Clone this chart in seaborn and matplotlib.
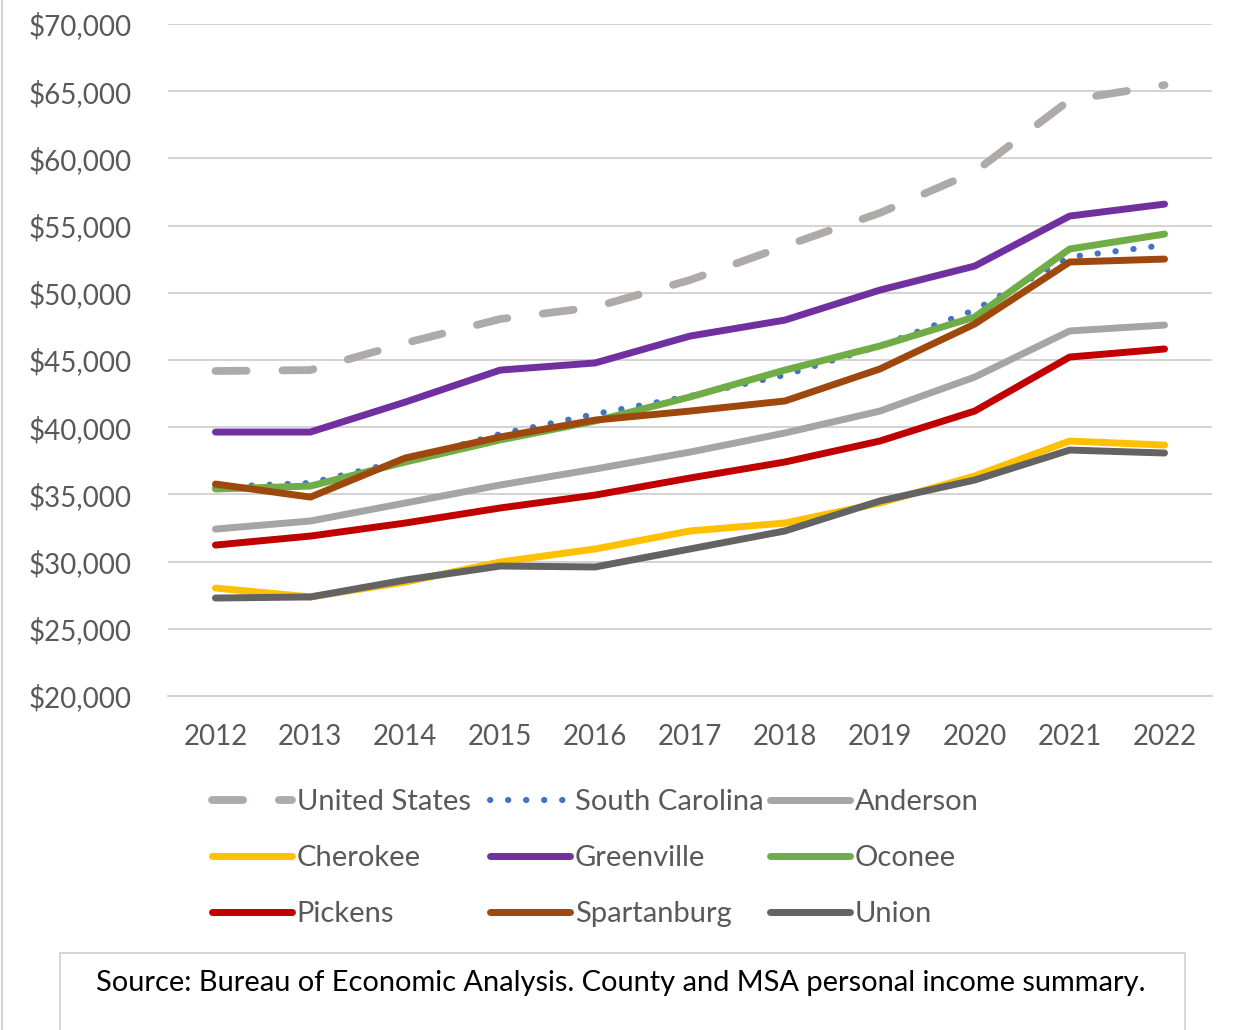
import matplotlib
matplotlib.use("Agg")
import matplotlib.pyplot as plt
import seaborn as sns
import pandas as pd
from matplotlib.lines import Line2D
from matplotlib.patches import Rectangle

years = list(range(2012, 2023))
united_states = [44180, 44250, 46260, 48050, 48940, 50950, 53480, 55940, 59000, 64340, 65460]
south_carolina = [35550, 35850, 37560, 39490, 40980, 42320, 43880, 46040, 48720, 52660, 53550]
anderson = [32420, 33020, 34360, 35700, 36890, 38150, 39570, 41200, 43730, 47160, 47600]
cherokee = [28030, 27370, 28480, 29970, 30940, 32280, 32870, 34360, 36370, 38970, 38670]
greenville = [39640, 39640, 41870, 44250, 44780, 46780, 47970, 50200, 51990, 55710, 56600]
oconee = [35400, 35620, 37410, 39050, 40460, 42250, 44250, 46040, 48200, 53260, 54370]
pickens = [31230, 31900, 32870, 33990, 34950, 36220, 37410, 38970, 41200, 45220, 45820]
spartanburg = [35770, 34800, 37710, 39270, 40530, 41200, 41950, 44330, 47680, 52290, 52510]
union = [27290, 27370, 28630, 29670, 29600, 30940, 32280, 34510, 36070, 38300, 38080]

series_names = ["United States", "South Carolina", "Anderson", "Cherokee", "Greenville",
                "Oconee", "Pickens", "Spartanburg", "Union"]
series_values = [united_states, south_carolina, anderson, cherokee, greenville,
                 oconee, pickens, spartanburg, union]
colors = ["#AEAAAA", "#4472C4", "#A5A5A5", "#FFC000", "#7030A0",
          "#70AD47", "#C00000", "#9E480E", "#636363"]
y_ticks = list(range(20000, 70001, 5000))
source_text = "Source: Bureau of Economic Analysis. County and MSA personal income summary."

sns.set_theme(style="white")
plt.rcParams['font.family'] = ['Lato', 'DejaVu Sans']

fig = plt.figure(figsize=(12.38, 10.30), dpi=100)
ax = fig.add_axes([168/1238, 1-696/1030, (1212-168)/1238, (696-24)/1030])

LW = 5.0
handles = {}
for name, vals, col in zip(series_names, series_values, colors):
    if name == "United States":
        kw = dict(linestyle=(0, (4.0, 4.6)), dash_capstyle='round', lw=5.6)
    elif name == "South Carolina":
        kw = dict(linestyle=(0, (0.05, 2.9)), dash_capstyle='round', lw=4.4)
    else:
        kw = dict(linestyle='-', solid_capstyle='round', solid_joinstyle='round', lw=LW)
    sns.lineplot(x=years, y=vals, color=col, ax=ax, legend=False, **kw)
    handles[name] = Line2D([], [], color=col, **kw)

ax.set_xlim(2011.5, 2022.5)
ax.set_ylim(20000, 70000)
ax.set_yticks(y_ticks)
ax.set_yticklabels([f"${v:,}" for v in y_ticks])
ax.set_xticks(years)
ax.set_xticklabels([str(y) for y in years])
ax.grid(axis='y', color='#D0D0D0', lw=1.3)
ax.grid(axis='x', visible=False)
for s in ['top', 'right', 'left']:
    ax.spines[s].set_visible(False)
ax.spines['bottom'].set_color('#D0D0D0')
ax.spines['bottom'].set_linewidth(1.3)
ax.tick_params(axis='y', length=0, pad=26, labelsize=20, labelcolor='#595959')
ax.tick_params(axis='x', length=0, pad=20, labelsize=20, labelcolor='#595959')
ax.set_xlabel("")
ax.set_ylabel("")

cols = [["United States", "Cherokee", "Pickens"],
        ["South Carolina", "Greenville", "Spartanburg"],
        ["Anderson", "Oconee", "Union"]]
col_x = [212, 490, 770]
for cx, names in zip(col_x, cols):
    leg = fig.legend([handles[n] for n in names], names, loc='upper left',
                     bbox_to_anchor=(cx/1238, 1-789/1030), frameon=False,
                     fontsize=21, handlelength=2.75, handletextpad=0.15,
                     labelspacing=1.03, borderpad=0, borderaxespad=0)
    for t in leg.get_texts():
        t.set_color('#595959')

fig.add_artist(Rectangle((60/1238, -0.01), (1185-60)/1238, (1030-953)/1030 + 0.01,
                         transform=fig.transFigure, fill=False, edgecolor='#D0D0D0', lw=1.2))
fig.text(621/1238, 1-983/1030, source_text, ha='center', va='center', fontsize=20.9, color='black')
fig.add_artist(Line2D([2/1238, 2/1238], [0, 1], transform=fig.transFigure, color='#C8C8C8', lw=1.2))

fig.savefig("out.png", dpi=100, facecolor='white')
